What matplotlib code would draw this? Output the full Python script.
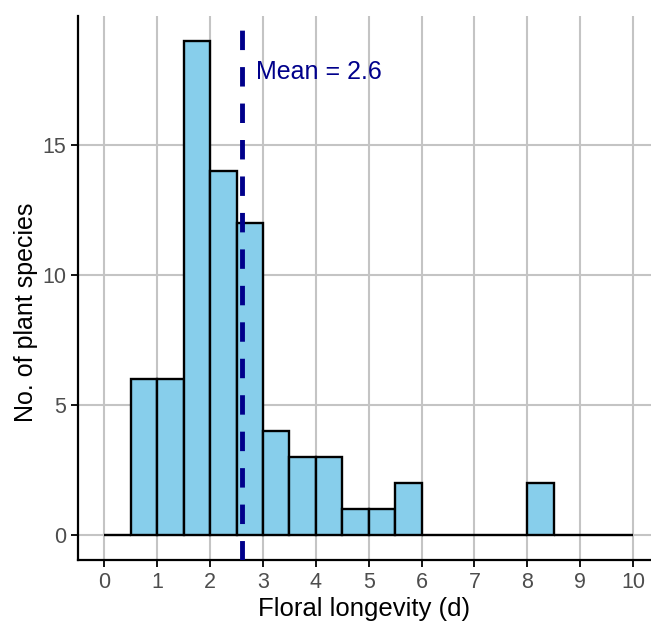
import numpy as np
import matplotlib.pyplot as plt

plt.rcParams['font.family'] = ['Liberation Sans', 'DejaVu Sans']

# histogram bins (width 0.5) and counts
bin_edges = np.arange(0, 10.5, 0.5)
counts = [0, 6, 6, 19, 14, 12, 4, 3, 3, 1, 1, 2, 0, 0, 0, 0, 2, 0, 0, 0]
mean_val = 2.6

fig = plt.figure(figsize=(6.51, 6.21), dpi=100)
ax = fig.add_axes([78 / 651, 1 - 560 / 621, 1 - 78 / 651, (560 - 16) / 621])

ax.bar(bin_edges[:-1], counts, width=0.5, align='edge', color='#87CEEB',
       edgecolor='black', linewidth=1.7, zorder=2)
ax.axvline(mean_val, color='#00008B', linestyle=(0, (4, 3.5)), linewidth=3.5, zorder=3)
ax.text(mean_val + 0.27, 17.8, "Mean = {}".format(mean_val), color='#00008B',
        fontsize=18, va='center', ha='left', zorder=4)

ax.set_xlim(-0.5, 10.34)
ax.set_ylim(-0.95, 19.95)
ax.set_xticks(range(0, 11))
ax.set_yticks([0, 5, 10, 15])
ax.grid(True, color='#C4C4C4', linewidth=1.5, zorder=0)
ax.set_axisbelow(True)

for s in ['top', 'right']:
    ax.spines[s].set_visible(False)
for s in ['left', 'bottom']:
    ax.spines[s].set_linewidth(1.6)

ax.tick_params(axis='both', labelsize=15.5, labelcolor='#4D4D4D', length=5, width=1.3)
ax.set_xlabel("Floral longevity (d)", fontsize=18.5, labelpad=3)
ax.set_ylabel("No. of plant species", fontsize=18)
ax.yaxis.set_label_coords(-0.07, 0.455)

fig.savefig("out.png", dpi=100)
